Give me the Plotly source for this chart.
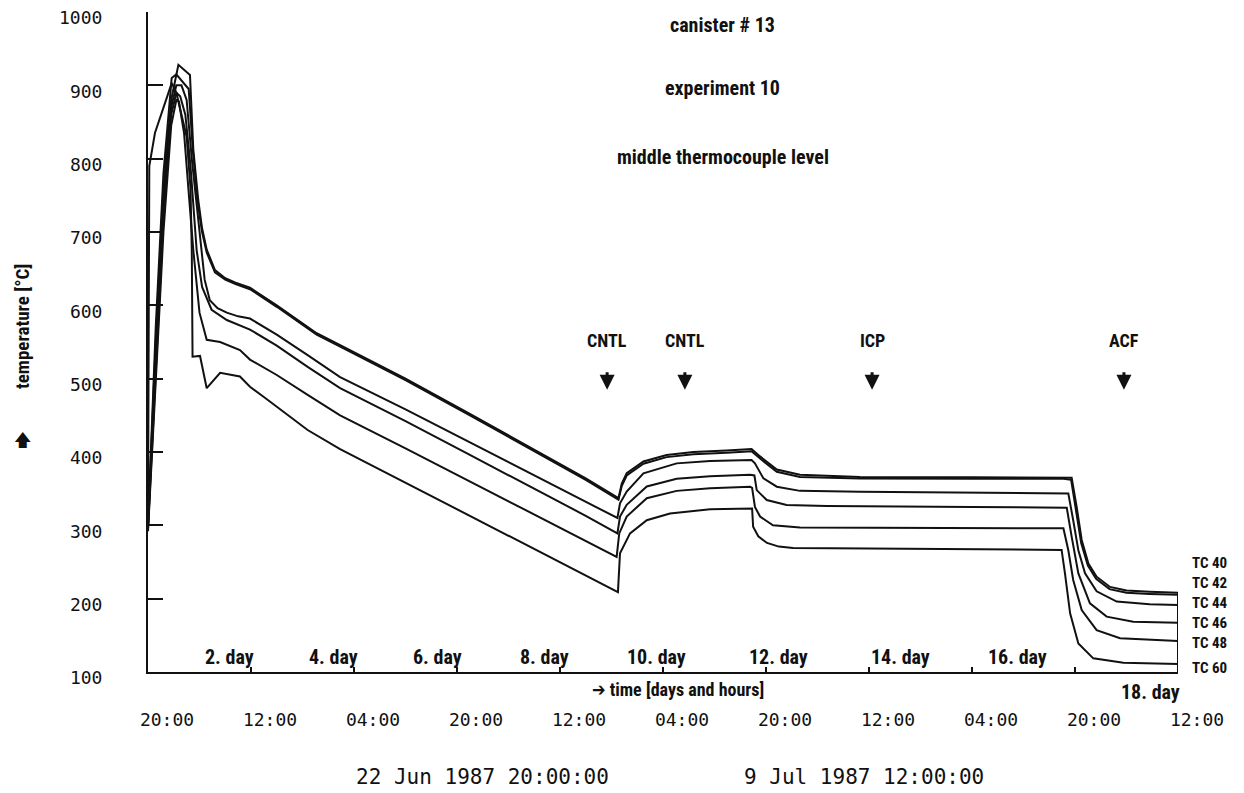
import plotly.graph_objects as go

# ---------------- data (hours since 22 Jun 1987 20:00, temperature in °C) ----------------
TC40_H = [0, 3, 6, 9, 11.8, 13, 16.3, 17.6, 19.5, 21, 22.8, 26, 30, 34, 39.6, 50, 65.5, 75, 100, 125,
          150, 170, 182.7, 184, 185.9, 192.4, 201.4, 211.8, 224.7, 234.4, 237.7, 244.2, 253.2, 276.5, 320,
          355.5, 358.7, 360.6, 362.6, 365.2, 368.4, 373.6, 380, 389, 400]
TC40_T = [300, 550, 760, 880, 928, 924, 914, 812, 744, 705, 676, 648, 637, 631, 624, 600, 562, 545, 500, 452,
          403, 364, 337, 357, 371, 387, 396, 400, 402, 404, 394, 376, 369, 366, 365.5,
          365.5, 365, 326, 280, 248, 230, 216, 211, 209.5, 208]

TC42_H = [0, 3, 6, 9.2, 11, 13.5, 15.8, 17.4, 19.3, 21, 22.8, 26, 30, 34, 39.6, 50, 65.5, 75, 100, 125,
          150, 170, 182.7, 184, 185.9, 192.4, 201.4, 211.8, 224.7, 234.4, 237.7, 244.2, 253.2, 276.5, 320,
          355.5, 358.5, 360.4, 362.4, 365, 368.2, 373.4, 380, 389, 400]
TC42_T = [300, 570, 780, 910, 915, 905, 895, 812, 740, 700, 672, 645, 635, 629, 622, 598, 560, 543, 498, 450,
          401, 362, 335, 354, 368, 384, 393, 397, 399, 401, 391, 373, 366, 364, 363.5,
          363.5, 362, 322, 276, 245, 227, 213, 208, 206.5, 205.5]

TC44_H = [0, 3, 6, 9, 11, 13, 15, 17, 19.5, 21, 22, 24, 27, 30.6, 35, 39.6, 50, 62, 74.6, 100,
          125, 150, 170, 182.3, 183.3, 185.9, 192.4, 205.3, 218.3, 234.4, 235.7, 239, 244.2, 253.2, 276.5,
          320, 357.4, 359.3, 361.3, 363.9, 368.4, 376.2, 389, 400]
TC44_T = [298, 530, 740, 870, 900, 900, 880, 800, 720, 670, 635, 607, 596, 590, 585, 582, 560, 532, 502, 458,
          413, 368, 333, 310, 330, 346, 371, 384.5, 387.7, 389, 384.5, 364, 352.7, 347, 345.9,
          345, 343.5, 307, 266, 234.5, 210, 196, 192.3, 191.4]

TC46_H = [0, 3, 6, 9, 11, 12.5, 14.5, 16.5, 18.9, 21, 24.7, 30.6, 39.6, 50, 62, 74.6, 100, 125, 150, 170,
          182.3, 183.3, 185.9, 193.7, 205.3, 218.3, 233.8, 235.5, 236.4, 240.3, 248, 263.6, 320,
          356.8, 358.7, 361.3, 365.8, 372.3, 382.6, 400]
TC46_T = [295, 510, 720, 860, 890, 885, 860, 790, 675, 625, 594, 580, 567, 545, 516, 487, 442, 396, 350, 313,
          289, 312, 328, 353, 363.6, 366.8, 369, 368, 348, 334.5, 327.7, 326.4, 325,
          324, 284.5, 234.5, 193.7, 175.5, 168.6, 167.2]

TC48_H = [0, 3, 6, 9, 11, 12, 14, 16, 17.6, 20, 22.8, 28, 35.7, 39.6, 50, 62, 74.6, 100, 125, 150,
          170, 182, 183, 185.9, 193.7, 205.3, 218.3, 233.8, 234.6, 235.7, 237.7, 242.7, 253.2, 320,
          355.5, 357.4, 359.3, 362.6, 368.4, 377.5, 400]
TC48_T = [292, 490, 700, 845, 880, 878, 835, 745, 675, 590, 553, 550, 539, 526, 505, 478, 450, 405, 360, 315,
          279, 257, 289, 312, 337, 347, 350.6, 352.7, 351, 325, 312, 300, 297, 296.5,
          296, 266, 225.5, 184.5, 157, 146, 142.3]

TC60_H = [0, 0.5, 2.7, 9.2, 11, 13, 15, 16.5, 17, 17.3, 20.2, 22.8, 28, 35.7, 39.6, 45, 55, 62, 74.6, 100,
          125, 150, 170, 182.5, 183.3, 187.2, 193.7, 202.7, 218.3, 234.6, 235, 237, 240.4, 245, 250.5, 320,
          354.8, 356.1, 358.1, 361.3, 367.1, 378.8, 400]
TC60_T = [300, 790, 835, 903, 890, 860, 830, 760, 675, 530, 531, 487, 508, 503, 489, 475, 448, 430, 404, 358,
          313, 268, 232, 209, 262, 289, 307, 316, 322, 323, 298, 285, 276, 271, 269, 267,
          266.5, 234.5, 180, 139, 118.6, 112.6, 110.9]

SERIES_NAMES = ["TC 40", "TC 42", "TC 44", "TC 46", "TC 48", "TC 60"]
SERIES_HOURS = [TC40_H, TC42_H, TC44_H, TC46_H, TC48_H, TC60_H]
SERIES_TEMPS = [TC40_T, TC42_T, TC44_T, TC46_T, TC48_T, TC60_T]

TIME_TICK_HOURS = [0, 40, 80, 120, 160, 200, 240, 280, 320, 360, 400]
TIME_TICK_LABELS = ["20:00", "12:00", "04:00", "20:00", "12:00", "04:00",
                    "20:00", "12:00", "04:00", "20:00", "12:00"]
TEMP_TICKS = [100, 200, 300, 400, 500, 600, 700, 800, 900, 1000]

DAY_LABELS = ["2. day", "4. day", "6. day", "8. day", "10. day", "12. day", "14. day", "16. day", "18. day"]
DAY_LABEL_HOURS = [31.8, 72.2, 112.6, 153.8, 197.3, 244.7, 292.4, 337.5, 389.5]
DAY_LABEL_TEMPS = [121, 121, 121, 121, 121, 121, 121, 121, 73]

EVENT_LABELS = ["CNTL", "CNTL", "ICP", "ACF"]
EVENT_HOURS = [178.3, 208.5, 281.2, 379.0]

TITLE_LINES = ["canister # 13", "experiment 10", "middle thermocouple level"]
TITLE_TEMPS = [982, 896, 802]

# label y positions for the curve names at the right end (°C)
TC_LABEL_Y = [248.6, 221.4, 194.0, 166.8, 139.5, 105.5]

X_RANGE = [0, 400]
Y_RANGE = [100, 1000]


def px(h):
    """hours -> paper x (plot domain spans the whole x range)"""
    return (h - X_RANGE[0]) / (X_RANGE[1] - X_RANGE[0])


def py(t):
    """temperature -> paper y"""
    return (t - Y_RANGE[0]) / (Y_RANGE[1] - Y_RANGE[0])


# ---------------- styling ----------------
INK = "#111111"
COND = "'Roboto Condensed', 'Liberation Sans Narrow', 'DejaVu Sans Condensed', 'Arial Narrow', Roboto, sans-serif"
MONO = "'DejaVu Sans Mono', 'Liberation Mono', monospace"

fig = go.Figure()
for name, h, t in zip(SERIES_NAMES, SERIES_HOURS, SERIES_TEMPS):
    fig.add_trace(go.Scatter(x=h, y=t, mode="lines", name=name,
                             line=dict(color=INK, width=2), showlegend=False,
                             hoverinfo="x+y+name"))

ann = []
# title block
for txt, yv in zip(TITLE_LINES, TITLE_TEMPS):
    ann.append(dict(x=px(223.3), y=py(yv), xref="paper", yref="paper", text=txt, showarrow=False,
                    xanchor="center", yanchor="middle",
                    font=dict(family=COND, size=20, color=INK, weight="bold")))
# event labels + arrows
for txt, hx in zip(EVENT_LABELS, EVENT_HOURS):
    ann.append(dict(x=px(hx), y=py(552), xref="paper", yref="paper", text=txt, showarrow=False,
                    xanchor="center", yanchor="middle",
                    font=dict(family=COND, size=18, color=INK, weight="bold")))
    ann.append(dict(x=hx, y=485, xref="x", yref="y", text="", showarrow=True,
                    ax=0, ay=-19, arrowhead=2, arrowsize=1, arrowwidth=3, arrowcolor=INK))
# day labels
for txt, hx, tv in zip(DAY_LABELS, DAY_LABEL_HOURS, DAY_LABEL_TEMPS):
    ann.append(dict(x=px(hx), y=py(tv), xref="paper", yref="paper", text=txt, showarrow=False,
                    xanchor="center", yanchor="middle",
                    font=dict(family=COND, size=20, color=INK, weight="bold")))
# x-axis title
ann.append(dict(x=px(205.8), y=py(75.5), xref="paper", yref="paper", text="➔ time [days and hours]",
                showarrow=False, xanchor="center", yanchor="middle",
                font=dict(family=COND, size=18, color=INK, weight="bold")))
# curve names at the right
for txt, yv in zip(SERIES_NAMES, TC_LABEL_Y):
    ann.append(dict(x=px(404.7), y=py(yv), xref="paper", yref="paper", text=txt, showarrow=False,
                    xanchor="left", yanchor="middle",
                    font=dict(family=COND, size=15, color=INK, weight="bold")))
# start / end dates
ann.append(dict(x=0.325, y=-0.159, xref="paper", yref="paper", text="22 Jun 1987 20:00:00",
                showarrow=False, xanchor="center", yanchor="middle",
                font=dict(family=MONO, size=21, color=INK)))
ann.append(dict(x=0.695, y=-0.159, xref="paper", yref="paper", text="9 Jul 1987 12:00:00",
                showarrow=False, xanchor="center", yanchor="middle",
                font=dict(family=MONO, size=21, color=INK)))
# y-axis title and arrow
ann.append(dict(x=-0.1223, y=0.5227, xref="paper", yref="paper", text="temperature [°C]",
                textangle=-90, showarrow=False, xanchor="center", yanchor="middle",
                font=dict(family=COND, size=19, color=INK, weight="bold")))
ann.append(dict(x=-0.1223, y=0.3515, xref="paper", yref="paper", text="🡅", showarrow=False,
                xanchor="center", yanchor="middle",
                font=dict(family="'DejaVu Sans', sans-serif", size=17, color=INK)))

fig.update_layout(
    width=1244, height=793,
    margin=dict(l=148, r=66, t=12, b=121, autoexpand=False),
    paper_bgcolor="white", plot_bgcolor="white",
    showlegend=False,
    annotations=ann,
    shapes=[dict(type="line", xref="x", yref="y",
                 x0=TC40_H[-1], x1=TC40_H[-1], y0=Y_RANGE[0], y1=TC40_T[-1],
                 line=dict(color=INK, width=2))],
    xaxis=dict(range=X_RANGE, showline=True, linecolor=INK, linewidth=2,
               ticks="inside", ticklen=5, tickwidth=1.5, tickcolor=INK,
               tickvals=TIME_TICK_HOURS, ticktext=TIME_TICK_LABELS,
               tickfont=dict(family=MONO, size=18, color=INK),
               ticklabelstandoff=30, ticklabelshift=19,
               showgrid=False, zeroline=False),
    yaxis=dict(range=Y_RANGE, showline=True, linecolor=INK, linewidth=2,
               ticks="inside", ticklen=15, tickwidth=2, tickcolor=INK,
               tickvals=TEMP_TICKS, ticktext=[str(v) for v in TEMP_TICKS],
               tickfont=dict(family=MONO, size=18, color=INK),
               ticklabelstandoff=40, ticklabelshift=6,
               showgrid=False, zeroline=False),
)

fig.write_html("out.html")
